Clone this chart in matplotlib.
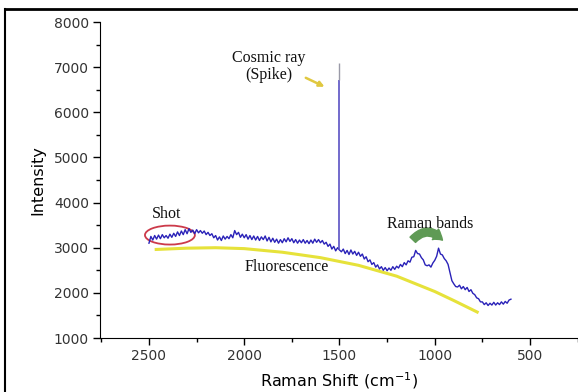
import matplotlib.pyplot as plt
from matplotlib.patches import Ellipse, FancyArrowPatch
from matplotlib.lines import Line2D
from matplotlib.ticker import MultipleLocator

# Raman shift (cm-1), 2500 -> 600 in steps of 10
shift = list(range(2500, 590, -10))
intensity = [
    3100, 3250, 3170, 3270, 3190, 3280, 3200, 3290, 3220, 3270, 3210,
    3300, 3230, 3320, 3250, 3350, 3270, 3370, 3290, 3400, 3310,
    3420, 3340, 3390, 3310, 3400, 3330, 3380, 3320, 3370, 3290,
    3340, 3270, 3310, 3220, 3270, 3170, 3240, 3160, 3260, 3190,
    3250, 3200, 3290, 3220, 3380, 3290, 3340, 3230, 3300, 3220,
    3290, 3190, 3270, 3180, 3260, 3170, 3250, 3160, 3240, 3180,
    3260, 3150, 3230, 3130, 3210, 3120, 3190, 3100, 3180, 3110,
    3200, 3130, 3220, 3140, 3200, 3110, 3180, 3100, 3170, 3110,
    3180, 3100, 3160, 3090, 3170, 3100, 3190, 3120, 3180, 3110,
    3160, 3080, 3120, 3030, 3080, 2970, 3030, 2930, 3000, 2950,
    2910, 2970, 2870, 2940, 2850, 2950, 2860, 2920, 2830, 2900,
    2810, 2860, 2750, 2800, 2690, 2730, 2630, 2670, 2570, 2620,
    2530, 2580, 2500, 2560, 2490, 2550, 2500, 2580, 2520, 2590,
    2550, 2630, 2580, 2670, 2620, 2710, 2680, 2790, 2800, 2940,
    2870, 2860, 2780, 2730, 2620, 2600, 2620, 2570, 2660, 2720,
    2810, 2990, 2860, 2840, 2760, 2710, 2630, 2450, 2270, 2200,
    2140, 2130, 2170, 2090, 2140, 2070, 2120, 2030, 2070, 1990,
    1960, 1890, 1870, 1800, 1800, 1740, 1780, 1720, 1770, 1730,
    1790, 1730, 1780, 1740, 1800, 1750, 1810, 1770, 1840, 1860,
]

# cosmic ray spike at 1500 cm-1
spike_x = 1500
spike_base = 2950
spike_mid = 6720
spike_top = 7090

# fluorescence background (yellow curve)
fluo_x = [2470, 2300, 2150, 2000, 1800, 1600, 1400, 1200, 1000, 900, 770]
fluo_y = [2960, 2990, 3000, 2980, 2900, 2780, 2610, 2370, 2030, 1830, 1560]

fig = plt.figure(figsize=(5.78, 3.92), dpi=100)
ax = fig.add_axes([100 / 578, 54 / 392, 478 / 578, 316 / 392])

ax.plot(fluo_x, fluo_y, color='#e6e23a', lw=2.2, solid_capstyle='butt')
ax.plot(shift, intensity, color='#2a22b8', lw=1.0)
ax.vlines(spike_x, spike_base, spike_mid, color='#5a52c4', lw=1.2)
ax.vlines(spike_x, spike_mid, spike_top, color='#9a9aa8', lw=1.0)

ax.set_xlim(2757, 248)
ax.set_ylim(1000, 8000)
ax.xaxis.set_major_locator(MultipleLocator(500))
ax.xaxis.set_minor_locator(MultipleLocator(250))
ax.yaxis.set_major_locator(MultipleLocator(1000))
ax.yaxis.set_minor_locator(MultipleLocator(500))
ax.tick_params(which='major', direction='out', length=5, width=1,
               labelsize=10, labelcolor='#333333', pad=3)
ax.tick_params(which='minor', direction='out', length=3, width=1)
ax.spines['top'].set_visible(False)
ax.spines['right'].set_visible(False)

ax.set_xlabel('Raman Shift (cm$^{-1}$)', fontsize=11.5, labelpad=5)
ax.set_ylabel('Intensity', fontsize=11.5, labelpad=6)

serif = dict(family='Liberation Serif', fontsize=11.5, color='#111111')
ax.text(1870, 7010, 'Cosmic ray\n(Spike)', ha='center', va='center',
        linespacing=1.1, **serif)
ax.text(2410, 3750, 'Shot', ha='center', va='center', **serif)
ax.text(1025, 3530, 'Raman bands', ha='center', va='center', **serif)
ax.text(1776, 2570, 'Fluorescence', ha='center', va='center', **serif)

ax.add_patch(Ellipse((2390, 3280), 262, 420, fill=False,
                     edgecolor='#cc3a4a', lw=1.3))
ax.add_patch(FancyArrowPatch((1690, 6790), (1565, 6540),
                             arrowstyle='-|>,head_length=3,head_width=1.5',
                             color='#e0c840', lw=1.8))
ax.add_patch(FancyArrowPatch((1125, 3130), (950, 3120),
                             connectionstyle='arc3,rad=-0.6',
                             arrowstyle='simple,head_length=0.6,head_width=0.8,tail_width=0.5',
                             mutation_scale=11, color='#5f9a55'))

# image frame
fig.add_artist(Line2D([5 / 578, 5 / 578], [0, 1 - 9 / 392],
                      transform=fig.transFigure, color='black', lw=1.5))
fig.add_artist(Line2D([5 / 578, 1], [1 - 9 / 392, 1 - 9 / 392],
                      transform=fig.transFigure, color='black', lw=2))

fig.savefig('out.png', dpi=100)
